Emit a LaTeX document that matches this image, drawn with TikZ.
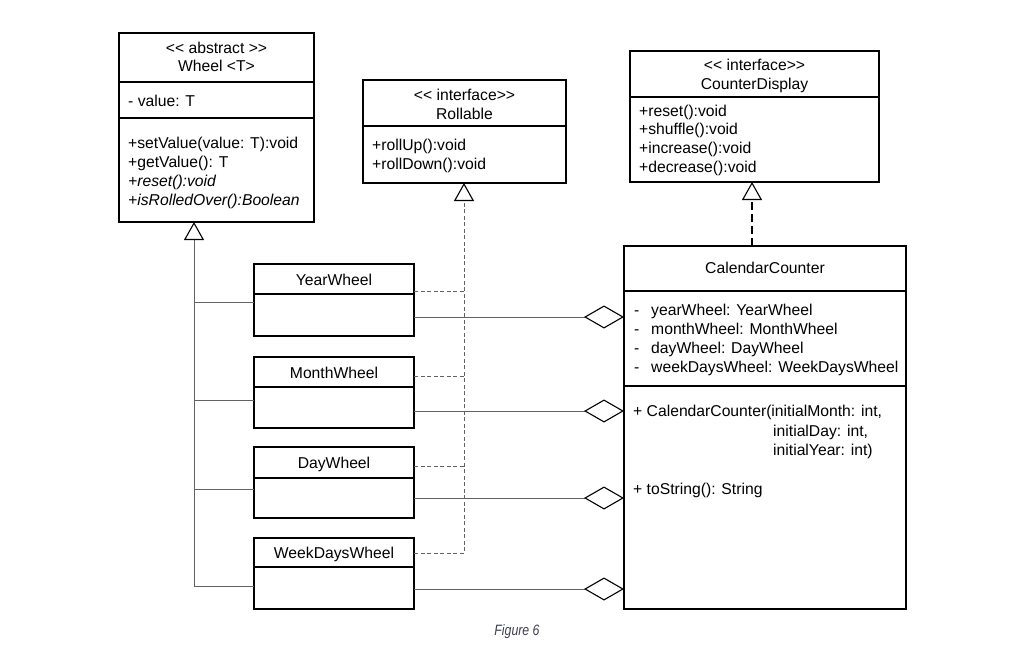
\documentclass[tikz,border=0pt]{standalone}
\usepackage{fontspec}
\setmainfont{Liberation Sans}
\usetikzlibrary{arrows.meta}
\newcommand\stl{<\kern0pt<}
\newcommand\stg{>\kern0pt>}
\definecolor{capcol}{RGB}{62,62,84}
\begin{document}
\begin{tikzpicture}[x=1pt,y=-1pt,
  box/.style={draw=black,line width=1.2pt,anchor=north west,inner sep=0pt,outer sep=0pt,fill=white},
  sepline/.style={draw=black,line width=1.2pt},
  txt/.style={font=\fontsize{15.7}{18}\selectfont,inner sep=0pt,anchor=base west},
  ctxt/.style={font=\fontsize{15.7}{18}\selectfont,inner sep=0pt,anchor=base},
  conn/.style={draw=black!62,line width=0.9pt},
  dashconn/.style={draw=black!62,line width=0.9pt,dash pattern=on 4pt off 2.5pt},
  gen/.style={-{Triangle[open,length=18pt,width=20pt,color=black,line width=1.1pt]}},
  agg/.style={-{Diamond[open,length=40pt,width=23pt,color=black,line width=1.1pt]}}
]
\useasboundingbox (0,0) rectangle (1024,669);
\fill[white] (0,0) rectangle (1024,669);

% ---------- Wheel ----------
\node[box,minimum width=195pt,minimum height=189pt] (wheel) at (119,33) {};
\draw[sepline,line width=1.6pt] (119,82) -- (314,82);
\draw[sepline] (119,118) -- (314,118);
\node[ctxt] (wheelS) at (216.5,53.5) {\stl{} abstract \stg};
\node[ctxt] (wheelN) at (216.5,71.5) {Wheel <T>};
\node[txt] (wheelA) at (128,106.5) {- value: T};
\node[txt] (wheelM1) at (128,148.5) {+setValue(value: T):void};
\node[txt] (wheelM2) at (128,167.5) {+getValue(): T};
\node[txt] (wheelM3) at (128,186.5) {\itshape +reset():void};
\node[txt] (wheelM4) at (128,205.5) {\itshape +isRolledOver():Boolean};

% ---------- Rollable ----------
\node[box,minimum width=203pt,minimum height=103pt] (roll) at (363,80) {};
\draw[sepline] (363,126) -- (566,126);
\node[ctxt] (rollS) at (464.5,100.5) {\stl{} interface\stg};
\node[ctxt] (rollN) at (464.5,119) {Rollable};
\node[txt] (rollM1) at (372,150.5) {+rollUp():void};
\node[txt] (rollM2) at (372,169.5) {+rollDown():void};

% ---------- CounterDisplay ----------
\node[box,minimum width=249pt,minimum height=131pt] (cdisp) at (630,51) {};
\draw[sepline] (630,97) -- (879,97);
\node[ctxt] (cdS) at (754.5,70.5) {\stl{} interface\stg};
\node[ctxt] (cdN) at (754.5,89.5) {CounterDisplay};
\node[txt] (cdM1) at (639,116) {+reset():void};
\node[txt] (cdM2) at (639,134.5) {+shuffle():void};
\node[txt] (cdM3) at (639,153.5) {+increase():void};
\node[txt] (cdM4) at (639,172.5) {+decrease():void};

% ---------- CalendarCounter ----------
\node[box,minimum width=282pt,minimum height=363pt] (cal) at (624,246) {};
\draw[sepline,line width=1.6pt] (624,291) -- (906,291);
\draw[sepline] (624,386) -- (906,386);
\node[ctxt] (calN) at (765,273.5) {CalendarCounter};
\node[txt] (calD1) at (634,315.5) {-};
\node[txt] (calD2) at (634,334.5) {-};
\node[txt] (calD3) at (634,353.5) {-};
\node[txt] (calD4) at (634,372.5) {-};
\node[txt] (calA1) at (651,315.5) {yearWheel: YearWheel};
\node[txt] (calA2) at (651,334.5) {monthWheel: MonthWheel};
\node[txt] (calA3) at (651,353.5) {dayWheel: DayWheel};
\node[txt] (calA4) at (651,372.5) {weekDaysWheel: WeekDaysWheel};
\node[txt] (calM1) at (633,416.5) {+ CalendarCounter(initialMonth: int,};
\node[txt] (calM1b) at (773,436) {initialDay: int,};
\node[txt] (calM1c) at (773,455) {initialYear: int)};
\node[txt] (calM2) at (633,494.5) {+ toString(): String};

% ---------- small wheel classes ----------
\node[box,minimum width=160pt,minimum height=72pt] (yw) at (254,264) {};
\draw[sepline] (254,294) -- (414,294);
\node[ctxt] (ywN) at (334,285.5) {YearWheel};
\node[box,minimum width=160pt,minimum height=71pt] (mw) at (254,357) {};
\draw[sepline] (254,387) -- (414,387);
\node[ctxt] (mwN) at (334,378.5) {MonthWheel};
\node[box,minimum width=160pt,minimum height=71pt] (dw) at (254,447) {};
\draw[sepline] (254,478) -- (414,478);
\node[ctxt] (dwN) at (334,468.5) {DayWheel};
\node[box,minimum width=160pt,minimum height=71pt] (wdw) at (254,538) {};
\draw[sepline] (254,567) -- (414,567);
\node[ctxt] (wdwN) at (334,558.5) {WeekDaysWheel};

% ---------- attach coordinates ----------
\coordinate (wtip) at (194,222);
\coordinate (ywL) at (254,302);
\coordinate (mwL) at (254,400);
\coordinate (dwL) at (254,489);
\coordinate (wdwL) at (254,586);
\coordinate (rtip) at (464,183);
\coordinate (ywD) at (414,291);
\coordinate (mwD) at (414,376);
\coordinate (dwD) at (414,466);
\coordinate (wdwD) at (414,553);
\coordinate (ywR) at (414,317);
\coordinate (mwR) at (414,411);
\coordinate (dwR) at (414,498);
\coordinate (wdwR) at (414,589);
\coordinate (calP1) at (624,317);
\coordinate (calP2) at (624,411);
\coordinate (calP3) at (624,498);
\coordinate (calP4) at (624,589);
\coordinate (calT) at (752,246);
\coordinate (ctip) at (752,182);

% ---------- generalization to Wheel ----------
\draw[conn,gen] (wdwL) -| (wtip);
\draw[conn] (ywL) -- (ywL -| wtip);
\draw[conn] (mwL) -- (mwL -| wtip);
\draw[conn] (dwL) -- (dwL -| wtip);

% ---------- realization to Rollable ----------
\draw[dashconn,gen] (wdwD) -| (rtip);
\draw[dashconn] (ywD) -- (ywD -| rtip);
\draw[dashconn] (mwD) -- (mwD -| rtip);
\draw[dashconn] (dwD) -- (dwD -| rtip);

% ---------- aggregations ----------
\draw[conn,agg] (ywR) -- (calP1);
\draw[conn,agg] (mwR) -- (calP2);
\draw[conn,agg] (dwR) -- (calP3);
\draw[conn,agg] (wdwR) -- (calP4);

% ---------- realization to CounterDisplay ----------
\draw[draw=black,line width=1.4pt,dash pattern=on 8pt off 4pt,gen] (calT) -- (ctip);

% ---------- caption ----------
\node[inner sep=0pt,anchor=base,text=capcol,font=\fontsize{15}{17}\selectfont\itshape] (cap) at (517,635.5) {\scalebox{0.82}[1]{Figure 6}};
\end{tikzpicture}
\end{document}
